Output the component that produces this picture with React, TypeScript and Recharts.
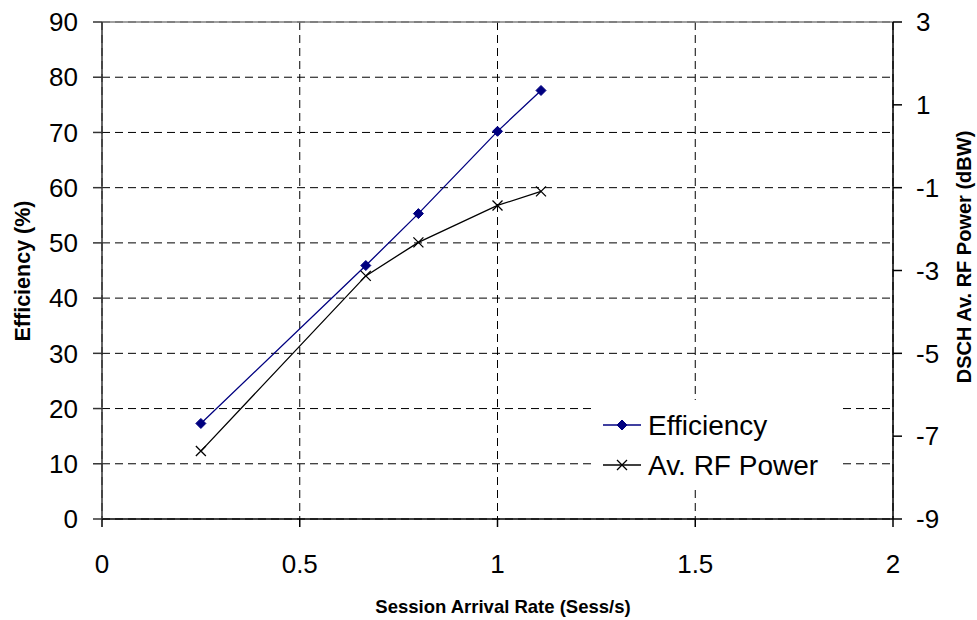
import { LineChart, Line, XAxis, YAxis, CartesianGrid, Legend, Label, ReferenceLine } from "recharts";

// Session arrival rate (Sess/s)
const arrivalRate = [0.25, 0.667, 0.8, 1.0, 1.11];
// Efficiency (%)
const efficiency = [17.3, 45.9, 55.3, 70.2, 77.6];
// DSCH average RF power (dBW)
const rfPower = [-7.36, -3.13, -2.32, -1.43, -1.09];

const xTicks = [0, 0.5, 1, 1.5, 2];
const leftTicks = [0, 10, 20, 30, 40, 50, 60, 70, 80, 90];
const rightTicks = [-9, -7, -5, -3, -1, 1, 3];

const data = arrivalRate.map((x, i) => ({ x, eff: efficiency[i], pwr: rfPower[i] }));

const FONT = "'Liberation Sans', Arial, sans-serif";
const NAVY = "#000080";

const tickStyle = { fill: "#000", fontSize: 26, fontFamily: FONT };

function Diamond(props: any) {
  const { cx, cy } = props;
  if (cx == null || cy == null) return null;
  const r = 5;
  return <path d={`M${cx},${cy - r}L${cx + r},${cy}L${cx},${cy + r}L${cx - r},${cy}Z`} fill={NAVY} stroke={NAVY} />;
}

function Cross(props: any) {
  const { cx, cy } = props;
  if (cx == null || cy == null) return null;
  const r = 5;
  return (
    <path d={`M${cx - r},${cy - r}L${cx + r},${cy + r}M${cx - r},${cy + r}L${cx + r},${cy - r}`} stroke="#000" strokeWidth={1.3} fill="none" />
  );
}

function LegendBox() {
  const rows = [
    { name: "Efficiency", color: NAVY, mark: "d" },
    { name: "Av. RF Power", color: "#000", mark: "x" },
  ];
  return (
    <svg width={245} height={85} style={{ display: "block", background: "#fff" }}>
      {rows.map((r, i) => {
        const y = 25 + i * 40;
        return (
          <g key={r.name}>
            <line x1={10} x2={48} y1={y} y2={y} stroke={r.color} strokeWidth={1.3} />
            {r.mark === "d" ? <Diamond cx={29} cy={y} /> : <Cross cx={29} cy={y} />}
            <text x={55} y={y + 10} fontSize={28} fontFamily={FONT} fill="#000">
              {r.name}
            </text>
          </g>
        );
      })}
    </svg>
  );
}

export default function App() {
  return (
    <div style={{ position: "absolute", left: 0, top: 0, background: "#fff" }}>
      <LineChart width={977} height={620} data={data} margin={{ top: 22, right: 0, left: 0, bottom: 41 }}>
        <CartesianGrid yAxisId="left" stroke="#000" strokeDasharray="8 5" strokeWidth={1} />
        <ReferenceLine yAxisId="left" y={90} stroke="#808080" strokeWidth={1.5} />
        <XAxis
          dataKey="x"
          type="number"
          domain={[0, 2]}
          ticks={xTicks}
          tick={tickStyle}
          tickSize={8}
          tickMargin={28}
          height={60}
          stroke="#000"
          strokeWidth={1.5}
        >
          <Label
            content={() => (
              <text x={503} y={613} textAnchor="middle" fontSize={18.5} fontWeight="bold" fontFamily={FONT} fill="#000">
                Session Arrival Rate (Sess/s)
              </text>
            )}
          />
        </XAxis>
        <YAxis
          yAxisId="left"
          domain={[0, 90]}
          ticks={leftTicks}
          tick={tickStyle}
          tickSize={9}
          tickMargin={15}
          width={102}
          stroke="#333"
          strokeWidth={1.5}
          interval={0}
        >
          <Label
            content={() => (
              <text x={30} y={271} transform="rotate(-90 30 271)" textAnchor="middle" fontSize={21.5} fontWeight="bold" fontFamily={FONT} fill="#000">
                Efficiency (%)
              </text>
            )}
          />
        </YAxis>
        <YAxis
          yAxisId="right"
          orientation="right"
          domain={[-9, 3]}
          ticks={rightTicks}
          tick={tickStyle}
          tickSize={9}
          tickMargin={14}
          width={84}
          stroke="#000"
          strokeWidth={1.5}
          interval={0}
        >
          <Label
            content={() => (
              <text x={971} y={257} transform="rotate(-90 971 257)" textAnchor="middle" fontSize={20} fontWeight="bold" fontFamily={FONT} fill="#000">
                DSCH Av. RF Power (dBW)
              </text>
            )}
          />
        </YAxis>
        <Legend
          layout="vertical"
          verticalAlign="middle"
          align="center"
          content={() => <LegendBox />}
          wrapperStyle={{ position: "absolute", left: 593, top: 400, width: 245, height: 85 }}
        />
        <Line
          yAxisId="left"
          dataKey="eff"
          name="Efficiency"
          stroke={NAVY}
          strokeWidth={1.3}
          dot={<Diamond />}
          isAnimationActive={false}
        />
        <Line
          yAxisId="right"
          dataKey="pwr"
          name="Av. RF Power"
          stroke="#000"
          strokeWidth={1.3}
          dot={<Cross />}
          isAnimationActive={false}
        />
      </LineChart>
    </div>
  );
}
